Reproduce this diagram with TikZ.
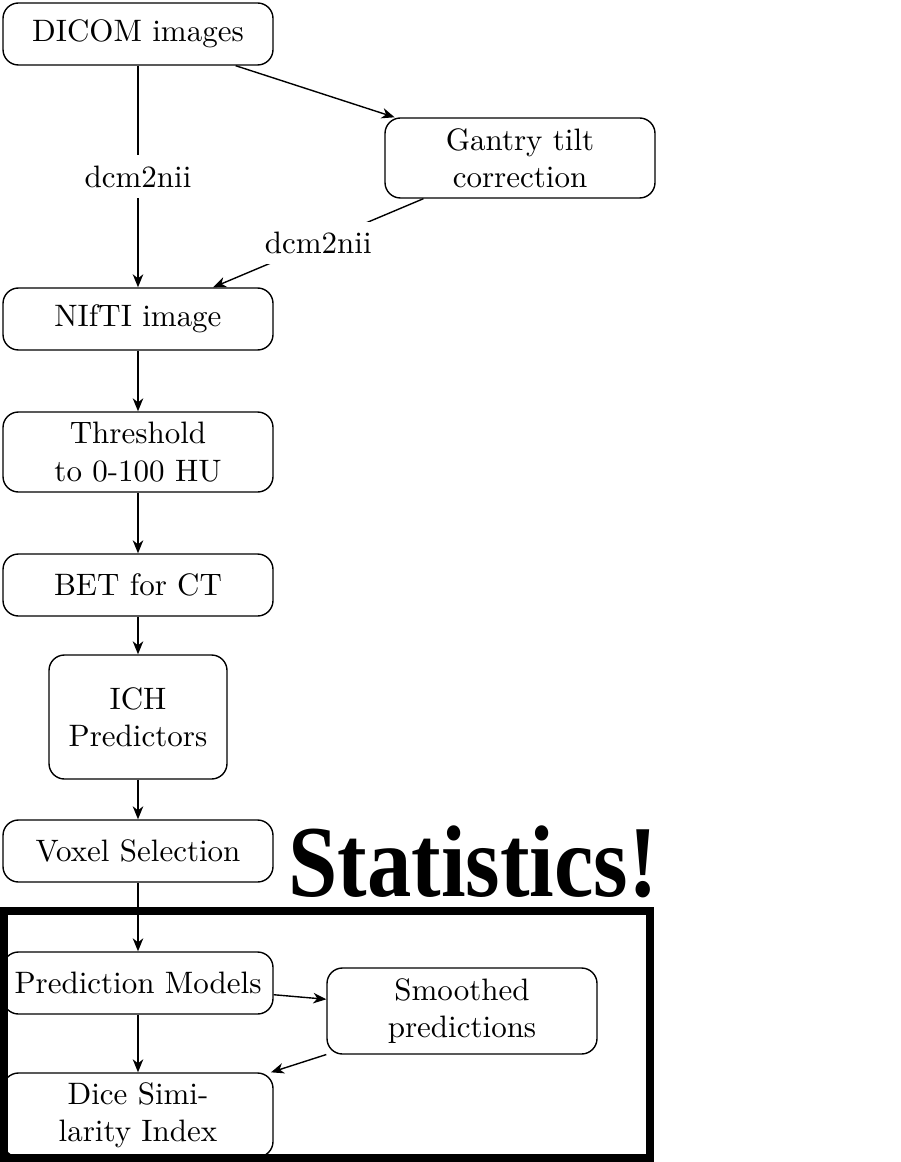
\documentclass[tikz,border=0pt]{standalone}
\usepackage{fontspec}
\newfontfamily\statfont{Liberation Serif}
\usetikzlibrary{arrows.meta}
\def\pxu{0.3226pt}
\begin{document}
\begin{tikzpicture}[x=0.3226pt,y=-0.3226pt,
  box/.style={draw, line width=0.45pt, rounded corners=5pt, align=center,
    minimum width=270*\pxu, minimum height=62*\pxu, inner sep=1pt},
  conn/.style={line width=0.45pt, -{Stealth[length=4.2pt,width=3.4pt,inset=1.3pt]}},
  lbl/.style={fill=white}]
\useasboundingbox (0,0) rectangle (900,1162);

\node[box] (dicom) at (138,34) {DICOM images};
\node[box, minimum height=80*\pxu] (gantry) at (520,158) {Gantry tilt\\correction};
\node[box] (nifti) at (138,319) {NIfTI image};
\node[box, minimum height=80*\pxu] (thr) at (138,452) {Threshold\\to 0-100 HU};
\node[box] (bet) at (138,585) {BET for CT};
\node[box, minimum width=178*\pxu, minimum height=124*\pxu] (ich) at (138,717) {ICH\\Predictors};
\node[box] (voxel) at (138,851) {Voxel Selection};
\node[box] (pred) at (138,983) {Prediction Models};
\node[box, minimum height=86*\pxu] (smooth) at (462,1011) {Smoothed\\predictions};
\node[box, minimum height=84*\pxu] (dice) at (138,1115) {Dice Simi-\\larity Index};

\node[anchor=base west, inner sep=0pt] (stats) at (288,896)
  {\scalebox{1}[1.15]{\fontsize{28.6pt}{30pt}\statfont\bfseries Statistics!}};

\draw[conn] (dicom) -- node[lbl] {dcm2nii} (nifti);
\draw[conn] (dicom) -- (gantry);
\draw[conn] (gantry) -- node[lbl] {dcm2nii} (nifti);
\draw[conn] (nifti) -- (thr);
\draw[conn] (thr) -- (bet);
\draw[conn] (bet) -- (ich);
\draw[conn] (ich) -- (voxel);
\draw[conn] (voxel) -- (pred);
\draw[conn] (pred) -- (smooth);
\draw[conn] (smooth) -- (dice);
\draw[conn] (pred) -- (dice);

\draw[line width=8*\pxu] (3.5,911) rectangle (650,1158);
\end{tikzpicture}
\end{document}
